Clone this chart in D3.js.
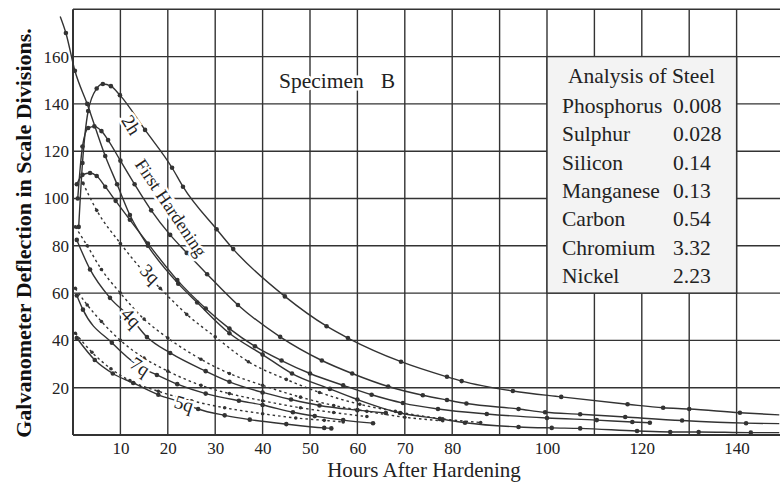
<!DOCTYPE html>
<html><head><meta charset="utf-8">
<script src="https://cdn.jsdelivr.net/npm/d3@7"></script>
<style>
body{margin:0;background:#fff;}
svg{display:block;font-family:"Liberation Serif","DejaVu Serif",serif;}
</style>
</head><body>
<svg id="chart" width="780" height="489"></svg>
<script>
// ---------- data ----------
const xTicks = [10,20,30,40,50,60,70,80,100,120,140];
const yTicks = [20,40,60,80,100,120,140,160];

const firstX = [-2.7,-1.5,0.4,3,6.8,9.3,12,15.8,22.2,26.2,33,40,46.2,54.2,60,69,77.4,82.7,94,101,107,119,126,132,143,149];
const firstY = [177,170,154,140,118,106,93,80,64,56,43,34,26,19.5,15,9.3,6.8,5.2,3.4,3,2.8,1.7,1.3,1.3,1,1];

const h2X = [1.2,2,3.2,5,6.3,8,9.9,15.2,20.9,23.2,30.3,33.8,44.7,53.5,58,69.2,78.9,82,92.8,103,117,124.5,130,140.7,149];
const h2Y = [88,115,137,146.5,148.4,147.5,143.7,129,113,105,87,78.6,58.6,46,41,31,24.6,22.8,18.6,16.1,13,11.5,11,9.4,8.5];

const peakX = [1,2,3.2,4.5,6,7.4,10,13,16.5,20.5,24,28.3,34.8,43.7,52.5,58.9,66.5,73.8,78.9,83,94,99.6,107,116.5,128.5,142,149];
const peakY = [100,122,129.8,130.5,128.5,124.7,116,106,95,84.6,77,68,55,41.5,31.5,26,20.5,16.8,14.8,13.3,11,9.6,8.8,7.6,6.1,5,4.8];

const bumpX = [0.8,2,3.6,5,6.8,9,12,15.8,22,28,33,38.4,44,50,57,63,69.6,77,87.3,100,110.5,118,121.7];
const bumpY = [106,110,110.8,109.5,105,99,91,81,65.5,53.5,45,37.5,31.5,26,21,17,13.5,11,8.9,7.2,6.3,5.5,5.2];

const q3X = [2.1,5,10,14.5,18.4,24,30,37,45,52,60.5,68,78,86];
const q3Y = [106.5,95,81,70,62,51,41.5,31,23.5,18,13,10,6.8,5.3];

const dashGX = [0.5,3,6,10,15,20,27,33,40,48,55,62,70,78];
const dashGY = [88,80,70,60,49,41,32,26,21,16,12.5,10,7.5,6];

const q4X = [0.8,3.6,7.8,12.2,15.6,20.5,28,33,40,46,52,60,66];
const q4Y = [82.5,70,58,49.5,41.4,34.7,27,22.5,18,15,12.5,10.5,9.3];

const dashIX = [0.5,3,6,10,15,20,27,33,40,48,55,62];
const dashIY = [62,55,48,40,32.5,27,21,17.5,14.5,11.5,9.5,7.8];

const q7X = [0.8,2.1,8.2,14,17.7,22,28,35,40,46.4,51,57,63.3];
const q7Y = [59,53,39,29,25.4,21.5,17.5,14.5,12.7,9.6,8,6.3,5];

const dashKX = [0.5,4,8,12,18,25,32,40,47,53,57];
const dashKY = [43,35,28,23,18.5,14.5,11.5,9,7.2,6.2,5.5];

const q5X = [0.8,4.6,8.4,12.7,18,23.4,26.4,32,37.3,45,53,54.5];
const q5Y = [41,31.7,26,22,17,13.5,11,8.3,6.5,4.6,3,2.8];

const elements = ["Phosphorus","Sulphur","Silicon","Manganese","Carbon","Chromium","Nickel"];
const amounts  = ["0.008","0.028","0.14","0.13","0.54","3.32","2.23"];

// ---------- drawing ----------
const svg = d3.select("#chart");
const x = d3.scaleLinear().domain([0,150]).range([73,784]);
const y = d3.scaleLinear().domain([0,180]).range([435,9.3]);
const ink = "#333";
const bg = "#ffffff";

svg.append("rect").attr("width",780).attr("height",489).attr("fill",bg);

// grid
const g = svg.append("g");
g.selectAll("line.v").data(d3.range(0,150,10)).join("line")
  .attr("x1",d=>x(d)).attr("x2",d=>x(d)).attr("y1",y(0)).attr("y2",y(180))
  .attr("stroke",ink).attr("stroke-width",d=>d===0?2:1.4);
g.selectAll("line.h").data(d3.range(0,181,20)).join("line")
  .attr("x1",x(0)).attr("x2",780).attr("y1",d=>y(d)).attr("y2",d=>y(d))
  .attr("stroke",ink).attr("stroke-width",d=>d===0?2.2:1.4);

// analysis box
svg.append("rect").attr("x",x(100)).attr("y",y(160))
  .attr("width",x(140)-x(100)).attr("height",y(60)-y(160))
  .attr("fill","#f3f3f3").attr("stroke",ink).attr("stroke-width",1.4);
svg.append("text").attr("x",568).attr("y",83).attr("font-size",21.5).attr("fill","#222")
  .text("Analysis of Steel");
const rows = svg.append("g").attr("font-size",21.5).attr("fill","#222");
elements.forEach((e,i)=>{
  rows.append("text").attr("x",562).attr("y",113+i*28.3).text(e);
  rows.append("text").attr("x",673).attr("y",113+i*28.3).text(amounts[i]);
});

// axes (tick labels)
const ax = svg.append("g").attr("transform",`translate(0,${y(0)})`)
  .call(d3.axisBottom(x).tickValues(xTicks).tickSize(0).tickPadding(7).tickFormat(d3.format("d")));
ax.select(".domain").remove();
ax.selectAll("text").attr("font-size",17).attr("font-family","Liberation Serif").attr("fill","#222");
const ay = svg.append("g").attr("transform",`translate(${x(0)-2},0)`)
  .call(d3.axisLeft(y).tickValues(yTicks).tickSize(0).tickPadding(2).tickFormat(d3.format("d")));
ay.select(".domain").remove();
ay.selectAll("text").attr("font-size",17).attr("font-family","Liberation Serif").attr("fill","#222");

// titles
svg.append("text").attr("x",424).attr("y",477).attr("text-anchor","middle")
  .attr("font-size",21).attr("fill","#222").text("Hours After Hardening");
svg.append("text").attr("transform","translate(31,233) rotate(-90)")
  .attr("text-anchor","middle").attr("font-size",22).attr("font-weight","bold")
  .attr("fill","#111")
  .text("Galvanometer Deflection in Scale Divisions.");

// Specimen B
const sp = svg.append("text").attr("x",279).attr("y",88).attr("font-size",21.5).attr("fill","#222")
  .attr("stroke",bg).attr("stroke-width",5).attr("paint-order","stroke");
sp.append("tspan").text("Specimen");
sp.append("tspan").attr("dx",17).text("B");

// curves
const series = [
  {xs:firstX, ys:firstY, dash:false},
  {xs:h2X, ys:h2Y, dash:false},
  {xs:peakX, ys:peakY, dash:false},
  {xs:bumpX, ys:bumpY, dash:false},
  {xs:q3X, ys:q3Y, dash:true},
  {xs:dashGX, ys:dashGY, dash:true},
  {xs:q4X, ys:q4Y, dash:false},
  {xs:dashIX, ys:dashIY, dash:true},
  {xs:q7X, ys:q7Y, dash:false},
  {xs:dashKX, ys:dashKY, dash:true},
  {xs:q5X, ys:q5Y, dash:false}
];
const line = d3.line().x(d=>x(d[0])).y(d=>y(d[1])).curve(d3.curveMonotoneX);
const cg = svg.append("g");
series.forEach(s=>{
  const pts = s.xs.map((v,i)=>[v,s.ys[i]]);
  cg.append("path").attr("d",line(pts)).attr("fill","none").attr("stroke",ink)
    .attr("stroke-width",1.4).attr("stroke-dasharray",s.dash?"2.5,3":null);
  cg.selectAll(null).data(pts.filter(p=>p[0]<=148 && p[0]>-2)).join("circle")
    .attr("cx",d=>x(d[0])).attr("cy",d=>y(d[1])).attr("r",s.dash?1.8:2.3).attr("fill","#333");
});

// curve labels
const labels = [
  {t:"2h", x:12.2, y:131, a:58, fs:19},
  {t:"First Hardening", x:20.6, y:96, a:56, fs:18},
  {t:"3q", x:16.2, y:68, a:45, fs:19},
  {t:"4q", x:12.2, y:49.5, a:46, fs:19},
  {t:"7q", x:14.1, y:28.8, a:33, fs:19},
  {t:"5q", x:23.4, y:13.1, a:18, fs:19}
];
svg.append("g").selectAll("text").data(labels).join("text")
  .attr("transform",d=>`translate(${x(d.x)},${y(d.y)}) rotate(${d.a})`)
  .attr("text-anchor","middle").attr("dy","0.32em").attr("font-size",d=>d.fs)
  .attr("fill","#222").attr("stroke",bg).attr("stroke-width",5).attr("paint-order","stroke")
  .text(d=>d.t);
</script>
</body></html>
